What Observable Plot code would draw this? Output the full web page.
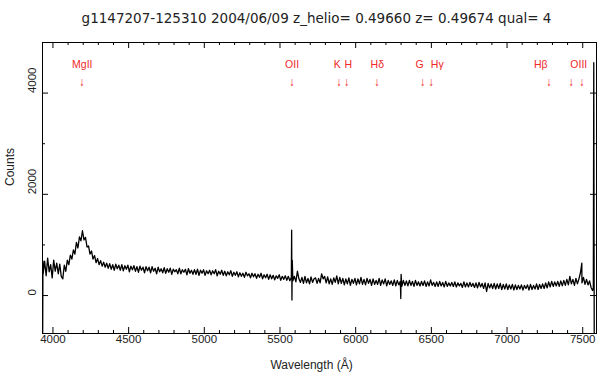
<!DOCTYPE html>
<html><head><meta charset="utf-8">
<script src="https://cdn.jsdelivr.net/npm/d3@7"></script>
<script src="https://cdn.jsdelivr.net/npm/@observablehq/plot@0.6"></script>
<style>body{margin:0;background:#fff}</style>
</head><body><div id="chart"></div>
<script>
const titleText = "g1147207-125310 2004/06/09 z_helio= 0.49660 z= 0.49674 qual= 4";
const lambdaStart = 3935, lambdaStep = 10;
const counts = [
420,680,390,740,470,610,350,700,480,640,
430,620,380,330,600,480,700,610,800,720,
900,820,1050,940,1160,1080,1280,1100,1150,960,
980,820,880,720,790,650,730,610,690,580,
660,560,640,540,630,520,610,500,620,530,
600,500,610,490,590,520,600,470,580,510,
590,480,570,460,580,500,560,450,570,490,
560,450,570,480,540,430,560,470,530,450,
550,440,530,460,540,420,520,470,510,430,
540,430,510,460,520,410,530,440,500,420,
510,420,520,400,500,440,510,400,490,430,
500,410,490,430,510,390,480,420,500,400,
480,390,470,410,490,380,460,400,470,370,
450,380,440,360,460,390,430,350,440,370,
430,340,420,360,440,330,410,350,420,320,
410,330,400,310,390,340,410,300,380,320,
390,300,380,290,360,290,380,270,480,330,
260,360,240,380,250,340,230,370,260,330,
350,240,340,250,430,330,380,250,370,230,
330,220,350,260,390,230,360,240,340,210,
330,230,350,200,320,240,340,210,330,230,
360,220,320,210,340,240,320,200,330,220,
300,220,340,200,310,230,330,190,300,220,
290,200,310,190,300,210,280,180,300,200,
290,190,300,200,280,180,300,200,270,190,
280,200,290,180,270,190,310,200,260,180,
270,180,280,190,260,170,280,180,250,190,
260,180,270,170,250,190,240,160,270,170,
250,170,260,180,240,160,250,150,260,170,
240,140,250,80,240,150,230,140,240,130,
230,140,240,120,220,130,230,120,210,130,
220,110,210,120,200,130,210,110,200,140,
210,110,220,120,200,130,230,120,220,140,
230,140,250,150,270,170,280,180,270,190,
280,180,290,190,300,200,320,210,380,230,
320,200,340,230,330,450,250,360,220,320,
210,290,160,100
];
const extraWaves  = [3932, 3934, 5577, 5579, 5581, 6298, 6300, 7494, 7570, 7573, 7576];
const extraCounts = [-900, 680, 1290, -90, 700, -60, 420, 640, 150, 4600, -900];

const lineNames  = ["MgII", "OII", "K", "H", "Hδ", "G", "Hγ", "Hβ", "OIII"];
const labelWaves = [4194, 5580, 5878, 5951, 6143, 6422, 6539, 7223, 7474];
const arrowWaves = [4190, 5578, 5888, 5940, 6139, 6442, 6497, 7276, 7422, 7494];

const xMajor = [4000, 4500, 5000, 5500, 6000, 6500, 7000, 7500];
const xMinor = d3.range(4000, 7600, 100).filter(v => v % 500 !== 0);
const yMajor = [0, 2000, 4000];
const yMinor = [1000, 3000];

const W = 600, H = 382, mL = 42, mR = 4, mT = 42, mB = 49;
const iW = W - mL - mR, iH = H - mT - mB;

const spectrum = counts.map((c, i) => ({w: lambdaStart + i * lambdaStep, c}))
  .concat(extraWaves.map((w, i) => ({w, c: extraCounts[i]})))
  .sort((a, b) => a.w - b.w);

const red = "#f02828";
const font = "Liberation Sans";

const chart = Plot.plot({
  width: W, height: H,
  marginLeft: mL, marginRight: mR, marginTop: mT, marginBottom: mB,
  style: {fontFamily: font, background: "#fff", overflow: "visible"},
  x: {domain: [3931, 7591], axis: null},
  y: {domain: [-750, 5000], axis: null},
  marks: [
    Plot.line(spectrum, {x: "w", y: "c", stroke: "black", strokeWidth: 1.3, clip: true}),
    Plot.frame({stroke: "black", strokeWidth: 1}),
    // ticks (inward, mirrored)
    Plot.ruleX(xMajor, {insetTop: iH - 6, stroke: "black"}),
    Plot.ruleX(xMinor, {insetTop: iH - 3, stroke: "black"}),
    Plot.ruleX(xMajor, {insetBottom: iH - 6, stroke: "black"}),
    Plot.ruleX(xMinor, {insetBottom: iH - 3, stroke: "black"}),
    Plot.ruleY(yMajor, {insetRight: iW - 6, stroke: "black"}),
    Plot.ruleY(yMinor, {insetRight: iW - 3, stroke: "black"}),
    Plot.ruleY(yMajor, {insetLeft: iW - 6, stroke: "black"}),
    Plot.ruleY(yMinor, {insetLeft: iW - 3, stroke: "black"}),
    // tick labels
    Plot.text(xMajor, {x: d => d, text: d => String(d), frameAnchor: "bottom", dy: 9, fontSize: 11.5, fill: "#222"}),
    Plot.text(yMajor, {y: d => d, text: d => String(d), frameAnchor: "left", dx: -10, rotate: -90, fontSize: 11.5, fill: "#222"}),
    // axis labels & title
    Plot.text(["Counts"], {frameAnchor: "left", dx: -32, dy: -2, rotate: -90, fontSize: 12, fill: "#222"}),
    Plot.text(["Wavelength (Å)"], {frameAnchor: "bottom", dx: -8, dy: 35, fontSize: 12, fill: "#222"}),
    Plot.text([titleText], {frameAnchor: "top", dx: -3, dy: -29, fontSize: 13.5, fontFamily: "DejaVu Sans", fill: "#222"}),
    // line identifications
    Plot.text(lineNames, {x: (d, i) => labelWaves[i], text: d => d, frameAnchor: "top", dy: 18, fontSize: 10.5, fill: red}),
    Plot.text(arrowWaves, {x: d => d, text: () => "↓", frameAnchor: "top", dy: 35, fontSize: 12, fill: red})
  ]
});
document.getElementById("chart").appendChild(chart);
</script>
</body></html>
